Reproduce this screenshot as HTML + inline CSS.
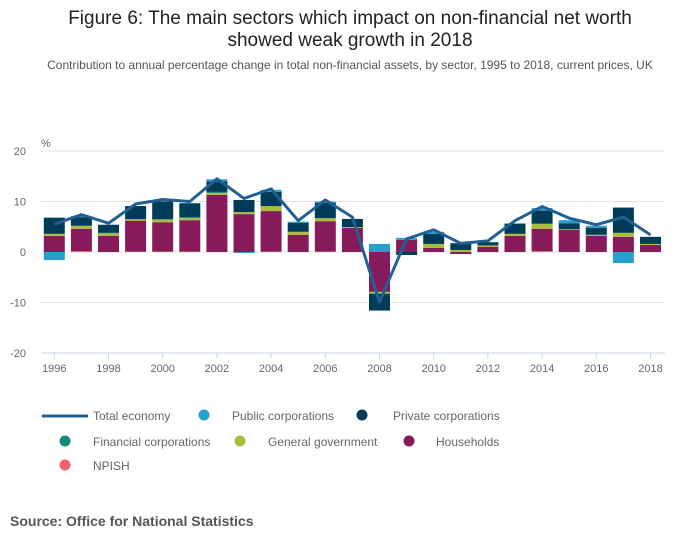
<!DOCTYPE html>
<html><head><meta charset="utf-8"><style>
body{margin:0;background:#fff;width:700px;height:549px;overflow:hidden;font-family:"Liberation Sans",sans-serif}
svg text{font-family:"Liberation Sans",sans-serif}
</style></head><body>
<svg id="chart" width="700" height="549">
<text x="350" y="24" text-anchor="middle" font-size="19" fill="#222">Figure 6: The main sectors which impact on non-financial net worth</text>
<text x="350" y="46" text-anchor="middle" font-size="19" fill="#222">showed weak growth in 2018</text>
<text x="350" y="69" text-anchor="middle" font-size="12" fill="#555">Contribution to annual percentage change in total non-financial assets, by sector, 1995 to 2018, current prices, UK</text>
<text x="41" y="147" font-size="11" fill="#666">%</text>
<g id="grid"></g><g id="bars"></g><g id="line"></g><g id="xaxis"></g>
<g font-size="12" fill="#666">
<line x1="42" y1="416" x2="88" y2="416" stroke="#206095" stroke-width="3"/>
<text x="93" y="420">Total economy</text>
<circle cx="204" cy="415" r="5.5" fill="#27a0cc"/><text x="232" y="420">Public corporations</text>
<circle cx="362" cy="415" r="5.5" fill="#003c57"/><text x="393" y="420">Private corporations</text>
<circle cx="65" cy="441" r="5.5" fill="#118c7b"/><text x="93" y="446">Financial corporations</text>
<circle cx="240" cy="441" r="5.5" fill="#a8bd3a"/><text x="268" y="446">General government</text>
<circle cx="409" cy="441" r="5.5" fill="#871a5b"/><text x="436" y="446">Households</text>
<circle cx="65" cy="465" r="5.5" fill="#f66068"/><text x="93" y="470">NPISH</text>
</g>
<text x="10" y="526" font-size="14" font-weight="bold" fill="#555">Source: Office for National Statistics</text>
</svg>
<script>
const years=[1996,1997,1998,1999,2000,2001,2002,2003,2004,2005,2006,2007,2008,2009,2010,2011,2012,2013,2014,2015,2016,2017,2018];
const npish=[0,0.2,0,0.1,0.1,0.1,0,0,0.1,0,0.1,0,0,0,0,0,0,0,0.2,0,0,0,0];
const households=[3.2,4.4,3.2,6.1,5.8,6.2,11.3,7.5,8.0,3.4,6.0,4.75,-7.9,2.4,0.8,-0.4,1.0,3.2,4.4,4.4,3.2,3.0,1.4];
const generalGov=[0.4,0.6,0.5,0.3,0.5,0.4,0.4,0.4,1.0,0.6,0.6,0.2,-0.3,0,0.8,0.4,0.3,0.4,1.0,0.1,0.2,0.8,0.2];
const financial=[0,0,0.1,0,0.1,0.2,0.2,0,0,0,0,0,-0.1,0,0,0,0,0,0,0,0,0,0];
const privateCorp=[3.2,1.7,1.6,2.6,3.5,2.7,2.1,2.4,2.8,1.8,3.0,1.6,-3.3,-0.6,2.0,1.3,0.6,2.0,2.6,1.2,1.4,5.0,1.4];
const publicCorp=[-1.6,0.2,0,0,0,0.1,0.4,-0.2,0.4,0.2,0.3,0,1.6,0.4,0.4,0.1,0.1,0.1,0.5,0.6,0.4,-2.2,0];
const total=[5.5,7.4,5.7,9.5,10.4,10.0,14.5,10.6,12.5,6.2,10.3,6.9,-9.9,2.6,4.4,1.7,2.2,6.2,9.0,6.7,5.4,6.9,3.4];
const yTicks=[20,10,0,-10,-20];
const xTickYears=[1996,1998,2000,2002,2004,2006,2008,2010,2012,2014,2016,2018];
const NS="http://www.w3.org/2000/svg";
const x=yr=>54.3+(yr-1996)*27.1;
const y=v=>252-v*5.05;
function mk(tag,attrs,parent){const e=document.createElementNS(NS,tag);for(const k in attrs)e.setAttribute(k,attrs[k]);parent.appendChild(e);return e;}
const grid=document.getElementById('grid');
yTicks.forEach(t=>{
 const l=mk('line',{x1:41,x2:665,y1:y(t),y2:y(t),stroke:t===-20?'#c8d6ea':'#e2e2e2','stroke-width':1},grid);
 
 
 const tx=mk('text',{x:26,y:y(t)+4,'text-anchor':'end','font-size':11,fill:'#666'},grid);tx.textContent=t;
 
 
});
const xa=document.getElementById('xaxis');
xTickYears.forEach(yr=>{
 const l=mk('line',{x1:x(yr),x2:x(yr),y1:353,y2:359,stroke:'#c8d6ea'},xa);
 
 
 const tx=mk('text',{x:x(yr),y:372,'text-anchor':'middle','font-size':11,fill:'#666'},xa);tx.textContent=yr;
 
 
});
const series=[[npish,'#f66068','npish'],[households,'#871a5b','households'],[generalGov,'#a8bd3a','general-government'],[financial,'#118c7b','financial-corporations'],[privateCorp,'#003c57','private-corporations'],[publicCorp,'#27a0cc','public-corporations']];
const bars=document.getElementById('bars');
years.forEach((yr,i)=>{
 let pos=0,neg=0;
 series.forEach(([arr,col,nm])=>{
  const v=arr[i];if(!v)return;
  let a,b;
  if(v>0){a=pos;b=pos+v;pos=b;}else{a=neg;b=neg+v;neg=b;}
  const r=mk('rect',{x:x(yr)-10.5,width:21,y:Math.min(y(a),y(b)),height:Math.abs(y(a)-y(b)),fill:col},bars);
  
  
 });
});
const p=mk('polyline',{points:years.map((yr,i)=>x(yr)+','+y(total[i])).join(' '),fill:'none',stroke:'#206095','stroke-width':3,'stroke-linejoin':'round'},document.getElementById('line'));


</script>
</body></html>
